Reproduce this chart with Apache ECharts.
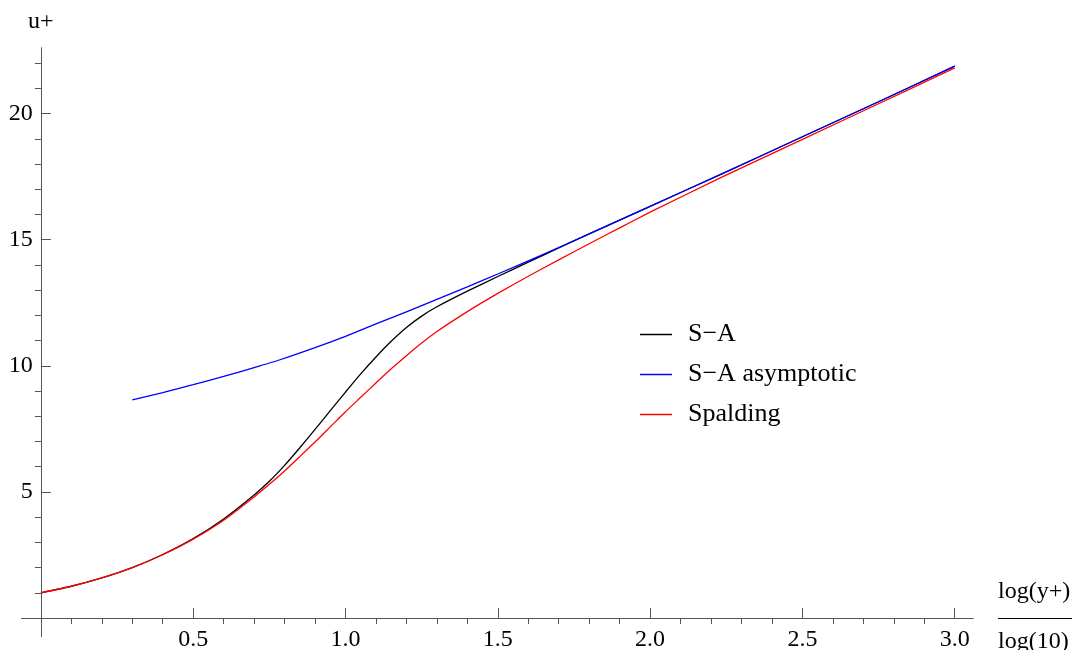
<!DOCTYPE html>
<html>
<head>
<meta charset="utf-8">
<script src="https://cdn.jsdelivr.net/npm/echarts@6/dist/echarts.min.js"></script>
<style>
  html, body { margin: 0; padding: 0; background: #fff; }
  #main { width: 1073px; height: 650px; }
</style>
</head>
<body>
<div id="main"></div>
<script>
// x = log(y+)/log(10)
var saX = [0, 0.1, 0.2, 0.3, 0.4, 0.5, 0.6, 0.7, 0.75, 0.8, 0.85, 0.9, 0.95, 1.0, 1.05, 1.1, 1.15, 1.2, 1.25, 1.3, 1.4, 1.5, 1.6, 1.7, 1.8, 2.0, 2.23, 2.5, 2.75, 3.0];
var saU = [1.0, 1.26, 1.59, 2.0, 2.52, 3.15, 3.93, 4.88, 5.42, 6.05, 6.75, 7.48, 8.22, 8.96, 9.68, 10.35, 10.97, 11.52, 11.97, 12.34, 12.96, 13.54, 14.11, 14.67, 15.23, 16.32, 17.58, 19.08, 20.47, 21.88];

var asymX = [0.3, 0.4, 0.5, 0.6, 0.7, 0.785, 0.9, 1.0, 1.1, 1.2, 1.3, 1.4, 1.5, 1.64, 1.8, 2.0, 2.23, 2.5, 2.75, 3.0];
var asymU = [8.65, 8.94, 9.25, 9.58, 9.93, 10.24, 10.72, 11.17, 11.66, 12.14, 12.63, 13.13, 13.64, 14.37, 15.23, 16.32, 17.58, 19.08, 20.47, 21.88];

var spX = [0, 0.1, 0.2, 0.3, 0.4, 0.5, 0.6, 0.7, 0.75, 0.8, 0.85, 0.9, 0.95, 1.0, 1.05, 1.1, 1.15, 1.2, 1.25, 1.3, 1.4, 1.5, 1.6, 1.7, 1.8, 1.9, 2.0, 2.23, 2.5, 2.75, 3.0];
var spU = [1.0, 1.26, 1.59, 2.0, 2.51, 3.13, 3.88, 4.8, 5.3, 5.83, 6.4, 6.98, 7.58, 8.18, 8.75, 9.32, 9.88, 10.4, 10.9, 11.36, 12.15, 12.87, 13.55, 14.2, 14.84, 15.47, 16.09, 17.45, 18.98, 20.39, 21.81];

var xMajor = [0.5, 1.0, 1.5, 2.0, 2.5, 3.0];
var xMinor = [0.1, 0.2, 0.3, 0.4, 0.6, 0.7, 0.8, 0.9, 1.1, 1.2, 1.3, 1.4, 1.6, 1.7, 1.8, 1.9, 2.1, 2.2, 2.3, 2.4, 2.6, 2.7, 2.8, 2.9];
var yMajor = [5, 10, 15, 20];
var yMinor = [1, 2, 3, 4, 6, 7, 8, 9, 11, 12, 13, 14, 16, 17, 18, 19, 21, 22];

function pairs(xs, ys) {
  return xs.map(function (x, i) { return [x, ys[i]]; });
}

var font = "'Liberation Serif', 'DejaVu Serif', serif";
var axisColor = "#555";

// labels sit at the grid edge, not at the zero line, so the margins are negative
function xAx(ticks, len, labels) {
  return {
    type: "value", min: -0.063, max: 3.06,
    axisLine: { show: true, onZero: true, lineStyle: { color: axisColor, width: 1 } },
    axisTick: { show: true, inside: true, length: len, customValues: ticks, lineStyle: { color: axisColor } },
    axisLabel: {
      show: labels, customValues: ticks, margin: -9,
      fontFamily: font, fontSize: 24, color: "#000",
      formatter: function (v) { return v.toFixed(1); }
    },
    splitLine: { show: false }
  };
}
function yAx(ticks, len, labels) {
  return {
    type: "value", min: -0.74, max: 22.6,
    axisLine: { show: true, onZero: true, lineStyle: { color: axisColor, width: 1 } },
    axisTick: { show: true, inside: true, length: len, customValues: ticks, lineStyle: { color: axisColor } },
    axisLabel: {
      show: labels, customValues: ticks, margin: -11,
      fontFamily: font, fontSize: 24, color: "#000"
    },
    splitLine: { show: false }
  };
}

var yMain = yAx(yMajor, 10, true);
yMain.name = "u+";
yMain.nameLocation = "end";
yMain.nameGap = 14;
yMain.nameTextStyle = { fontFamily: font, fontSize: 24, color: "#000", align: "center" };

var myChart = echarts.init(document.getElementById("main"));
var option = {
  animation: false,
  grid: { left: 21.7, right: 100, top: 48, bottom: 13.3, containLabel: false, outerBoundsMode: "none" },
  xAxis: [xAx(xMajor, 10, true), xAx(xMinor, 6, false)],
  yAxis: [yMain, yAx(yMinor, 6, false)],
  legend: {
    orient: "vertical",
    left: 640, top: 321, padding: 0,
    icon: "rect",
    itemWidth: 32, itemHeight: 1.5, itemGap: 13,
    textStyle: { fontFamily: font, fontSize: 26, color: "#000", lineHeight: 27, padding: [0, 0, 0, 11] },
    data: ["S\u2212A", "S\u2212A asymptotic", "Spalding"]
  },
  graphic: [
    { type: "text", left: 998, top: 580, style: { text: "log(y+)", font: "24px " + font, fill: "#000" } },
    { type: "line", shape: { x1: 998, y1: 618.5, x2: 1072, y2: 618.5 }, style: { stroke: "#000", lineWidth: 1.2 } },
    { type: "text", left: 998, top: 630, style: { text: "log(10)", font: "24px " + font, fill: "#000" } }
  ],
  series: [
    {
      name: "S\u2212A", type: "line", data: pairs(saX, saU),
      symbol: "none", smooth: 0.2,
      lineStyle: { color: "#000", width: 1.3 }, itemStyle: { color: "#000" }
    },
    {
      name: "S\u2212A asymptotic", type: "line", data: pairs(asymX, asymU),
      symbol: "none", smooth: 0.2,
      lineStyle: { color: "#0000ff", width: 1.3 }, itemStyle: { color: "#0000ff" }
    },
    {
      name: "Spalding", type: "line", data: pairs(spX, spU),
      symbol: "none", smooth: 0.2,
      lineStyle: { color: "#ff0000", width: 1.3 }, itemStyle: { color: "#ff0000" }
    }
  ]
};
myChart.setOption(option);
</script>
</body>
</html>
